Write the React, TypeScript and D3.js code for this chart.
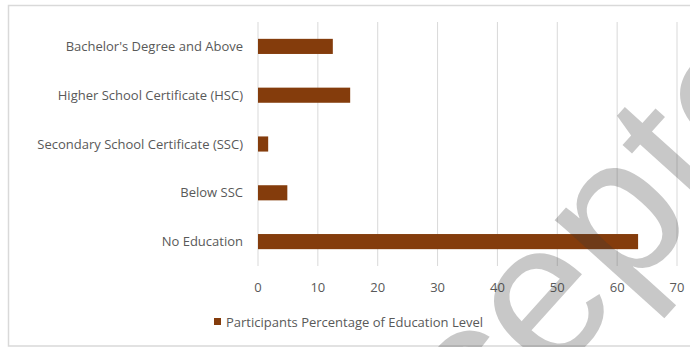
import React from "react";
import * as d3 from "d3";

const categories = [
  "Bachelor's Degree and Above",
  "Higher School Certificate (HSC)",
  "Secondary School Certificate (SSC)",
  "Below SSC",
  "No Education",
];
const values = [12.5, 15.4, 1.7, 4.9, 63.5];
const ticks = [0, 10, 20, 30, 40, 50, 60, 70];
const legendLabel = "Participants Percentage of Education Level";
const watermark = "Accepted";

const W = 690;
const H = 347;
const FONT = "'Open Sans', Lato, sans-serif";

export default function App() {
  const x = d3.scaleLinear().domain([0, 70]).range([258, 677]);
  const y = d3.scaleBand().domain(categories).range([22, 266]).paddingInner(0.69).paddingOuter(0.345);
  const bw = y.bandwidth();
  return (
    <svg width={W} height={H} style={{ position: "absolute", left: 0, top: 0, background: "#fff" }}>
      <rect x={8.5} y={5.5} width={700} height={340.5} fill="#fff" stroke="#d9d9d9" strokeWidth={1.5} />
      {ticks.map((t) => (
        <line key={t} x1={x(t)} x2={x(t)} y1={22} y2={266} stroke="#d9d9d9" strokeWidth={1} />
      ))}
      {categories.map((c, i) => (
        <g key={c}>
          <rect x={x(0)} y={y(c)!} width={x(values[i]) - x(0)} height={bw} fill="#843c0c" />
          <text x={243} y={y(c)! + bw / 2} dy="0.35em" textAnchor="end" fontFamily={FONT} fontSize={13} fill="#595959">
            {c}
          </text>
        </g>
      ))}
      {ticks.map((t) => (
        <text key={t} x={x(t)} y={287} dy="0.35em" textAnchor="middle" fontFamily={FONT} fontSize={13} fill="#595959">
          {t}
        </text>
      ))}
      <rect x={214} y={318} width={7} height={7} fill="#843c0c" />
      <text x={226} y={322} dy="0.35em" fontFamily={FONT} fontSize={13} fill="#595959">
        {legendLabel}
      </text>
      <g transform="translate(327,631) rotate(-48)">
        <text x={0} y={0} fontFamily="'Liberation Sans', Arial, sans-serif" fontSize={200} fill="#383838" fillOpacity={0.28}>
          {watermark}
        </text>
      </g>
    </svg>
  );
}
